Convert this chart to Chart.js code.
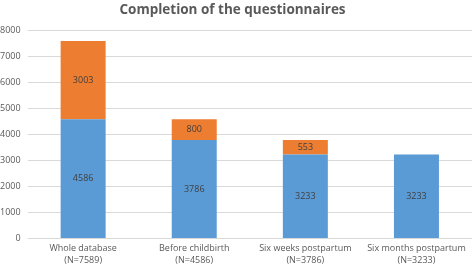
<!DOCTYPE html>
<html>
<head>
<meta charset="utf-8">
<script src="https://cdn.jsdelivr.net/npm/chart.js@4"></script>
<style>
    html, body { margin: 0; padding: 0; background: #fff; }
    #wrap { width: 473px; height: 266px; }
</style>
</head>
<body>
<div id="wrap"><canvas id="chart"></canvas></div>
<script>
// Chart data
const categories = [
    ['Whole database', '(N=7589)'],
    ['Before childbirth', '(N=4586)'],
    ['Six weeks postpartum', '(N=3786)'],
    ['Six months postpartum', '(N=3233)']
];
const completedValues = [4586, 3786, 3233, 3233];
const notCompletedValues = [3003, 800, 553, 0];
const yTicks = [0, 1000, 2000, 3000, 4000, 5000, 6000, 7000, 8000];

const FONT = '"Open Sans", "Liberation Sans", sans-serif';
const TEXT_GREY = '#595959';

// Draw value labels inside each bar segment
const barLabels = {
    id: 'barLabels',
    afterDatasetsDraw(chart) {
        const ctx = chart.ctx;
        ctx.save();
        ctx.font = '9px ' + FONT;
        ctx.fillStyle = '#404040';
        ctx.textAlign = 'center';
        ctx.textBaseline = 'middle';
        chart.data.datasets.forEach((ds, di) => {
            chart.getDatasetMeta(di).data.forEach((bar, i) => {
                const v = ds.data[i];
                if (!v) return;
                const y = (bar.y + bar.base) / 2;
                ctx.fillText(String(v), bar.x, y);
            });
        });
        ctx.restore();
    }
};

document.addEventListener('DOMContentLoaded', () => {
    const ctx = document.getElementById('chart').getContext('2d');
    new Chart(ctx, {
        type: 'bar',
        data: {
            labels: categories,
            datasets: [
                {
                    label: 'Completed',
                    data: completedValues,
                    backgroundColor: '#5B9BD5',
                    categoryPercentage: 1,
                    barPercentage: 0.405
                },
                {
                    label: 'Not completed',
                    data: notCompletedValues,
                    backgroundColor: '#ED7D31',
                    categoryPercentage: 1,
                    barPercentage: 0.405
                }
            ]
        },
        options: {
            responsive: true,
            maintainAspectRatio: false,
            animation: false,
            layout: { padding: { left: -7, right: 1, top: 0, bottom: -4 } },
            plugins: {
                legend: { display: false },
                tooltip: { enabled: false },
                title: {
                    display: true,
                    text: 'Completion of the questionnaires',
                    color: TEXT_GREY,
                    font: { family: FONT, size: 13.5, weight: 'bold' },
                    padding: { top: 2, bottom: 12 }
                }
            },
            scales: {
                x: {
                    stacked: true,
                    grid: { display: false, drawTicks: false },
                    border: { display: false },
                    ticks: {
                        color: TEXT_GREY,
                        font: { family: FONT, size: 9, lineHeight: 1.3 },
                        padding: 4,
                        maxRotation: 0,
                        autoSkip: false
                    }
                },
                y: {
                    stacked: true,
                    min: 0,
                    max: 8000,
                    afterBuildTicks: (axis) => {
                        axis.ticks = yTicks.map(v => ({ value: v }));
                    },
                    grid: { color: '#d9d9d9', drawTicks: false },
                    border: { display: false },
                    ticks: {
                        color: TEXT_GREY,
                        font: { family: FONT, size: 9 },
                        padding: 7,
                        callback: (value) => String(value)
                    }
                }
            }
        },
        plugins: [barLabels]
    });
});
</script>
</body>
</html>
